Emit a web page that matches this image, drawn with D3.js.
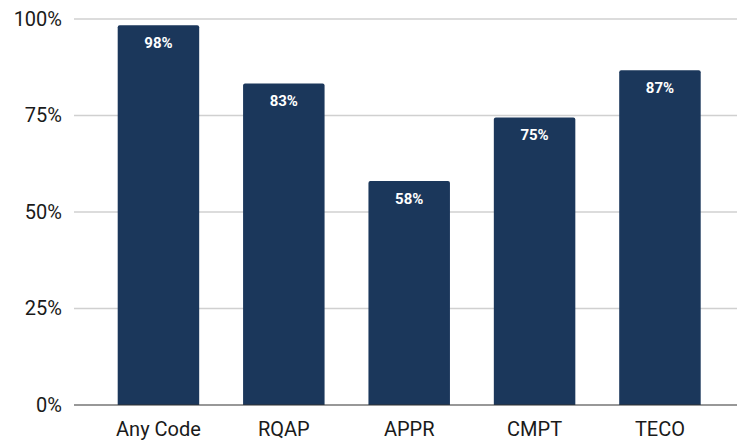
<!DOCTYPE html>
<html>
<head>
<meta charset="utf-8">
<script src="https://cdn.jsdelivr.net/npm/d3@7"></script>
<style>
  html, body { margin: 0; padding: 0; background: #fff; }
  svg { display: block; font-family: Roboto, "Noto Sans", sans-serif; }
</style>
</head>
<body>
<svg id="chart" width="737" height="440"></svg>
<script>
// Share of submissions per code category
const categories = ["Any Code", "RQAP", "APPR", "CMPT", "TECO"];
const shares = [0.984, 0.833, 0.58, 0.745, 0.867];
const tickValues = [0, 0.25, 0.5, 0.75, 1];

const svg = d3.select("#chart");
const plotLeft = 74, plotRight = 737, plotTop = 19, plotBottom = 405;

const x = d3.scaleBand()
  .domain(categories)
  .range([117.7, 700.7])
  .paddingInner(0.35)
  .paddingOuter(0);

const y = d3.scaleLinear().domain([0, 1]).range([plotBottom, plotTop]);
const pct = d3.format(".0%");

// horizontal gridlines
svg.append("g")
  .selectAll("line")
  .data(tickValues.filter(v => v > 0))
  .join("line")
  .attr("x1", plotLeft).attr("x2", plotRight)
  .attr("y1", d => y(d)).attr("y2", d => y(d))
  .attr("stroke", "#d0d0d0").attr("stroke-width", 1.5);

// y axis labels
const yAxis = svg.append("g")
  .attr("transform", `translate(${plotLeft},0)`)
  .call(d3.axisLeft(y).tickValues(tickValues).tickFormat(pct).tickSize(0).tickPadding(12));
yAxis.select(".domain").remove();
yAxis.selectAll("text")
  .attr("font-family", "Roboto, sans-serif")
  .attr("font-size", 20)
  .attr("fill", "#1a1a1a");

// bars with slightly rounded tops
const r = 2;
svg.append("g")
  .selectAll("path")
  .data(categories.map((c, i) => ({ c, v: shares[i] })))
  .join("path")
  .attr("fill", "#1b375b")
  .attr("d", d => {
    const x0 = x(d.c), w = x.bandwidth(), y0 = y(d.v), y1 = y(0);
    return `M${x0},${y1}V${y0 + r}Q${x0},${y0} ${x0 + r},${y0}H${x0 + w - r}Q${x0 + w},${y0} ${x0 + w},${y0 + r}V${y1}Z`;
  });

// value labels inside bar tops
svg.append("g")
  .selectAll("text")
  .data(categories.map((c, i) => ({ c, v: shares[i] })))
  .join("text")
  .attr("x", d => x(d.c) + x.bandwidth() / 2)
  .attr("y", d => y(d.v) + 23)
  .attr("text-anchor", "middle")
  .attr("font-family", "Roboto, sans-serif")
  .attr("font-weight", "bold")
  .attr("font-size", 15)
  .attr("fill", "#fff")
  .text(d => pct(d.v));

// baseline
svg.append("line")
  .attr("x1", plotLeft).attr("x2", plotRight)
  .attr("y1", y(0)).attr("y2", y(0))
  .attr("stroke", "#333").attr("stroke-width", 1.2);

// x axis labels
const xAxis = svg.append("g")
  .attr("transform", `translate(0,${plotBottom})`)
  .call(d3.axisBottom(x).tickSize(0).tickPadding(16.5));
xAxis.select(".domain").remove();
xAxis.selectAll("text")
  .attr("font-family", "Roboto, sans-serif")
  .attr("font-size", 20)
  .attr("fill", "#1a1a1a");
</script>
</body>
</html>
